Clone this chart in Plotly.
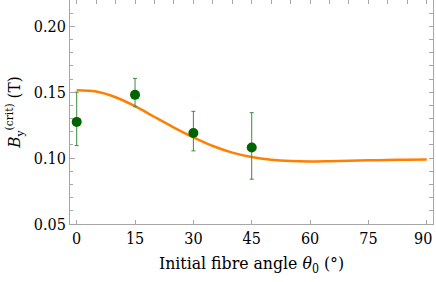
import plotly.graph_objects as go

# Data
angles = [0, 15, 30, 45]
b_crit = [0.1275, 0.148, 0.119, 0.108]
err_plus = [0.0225, 0.0125, 0.0165, 0.0265]
err_minus = [0.0180, 0.0090, 0.0135, 0.0240]

fit_angles = [0, 5, 10, 15, 20, 25, 30, 35, 40, 45, 50, 55, 60, 65, 70, 75, 80, 85, 90]
fit_values = [0.1515, 0.1505, 0.1462, 0.1394, 0.1312, 0.1232, 0.1157, 0.1092, 0.1042,
              0.1008, 0.0988, 0.0978, 0.0975, 0.0977, 0.0980, 0.0983, 0.0986, 0.0988, 0.0989]

x_ticks = [0, 15, 30, 45, 60, 75, 90]
x_ticklabels = ["0", "15", "30", "45", "60", "75", ""]
y_ticks = [0.05, 0.10, 0.15, 0.20]
y_ticklabels = ["0.05", "0.10", "0.15", "0.20"]

XR = [-1.72, 91.6]
YR = [0.05, 0.22]
FRAME = "#a6a6a6"
FONT = "DejaVu Serif Condensed, DejaVu Serif"

fig = go.Figure()
fig.add_trace(go.Scatter(x=fit_angles, y=fit_values, mode="lines", line_shape="spline",
                         line=dict(color="#ff8000", width=2.5), hoverinfo="skip"))
fig.add_trace(go.Scatter(x=angles, y=b_crit, mode="markers",
                         marker=dict(color="#006400", size=10),
                         error_y=dict(type="data", array=err_plus, arrayminus=err_minus,
                                      color="#3c8c3c", thickness=1, width=2)))
# invisible trace for the secondary (top/right) tick axes
fig.add_trace(go.Scatter(x=[XR[0]], y=[YR[0]], xaxis="x2", yaxis="y2", mode="markers",
                         marker=dict(opacity=0), hoverinfo="skip"))

fig.update_layout(
    width=436, height=282,
    margin=dict(l=70, r=3, t=0, b=58),
    paper_bgcolor="white", plot_bgcolor="white",
    showlegend=False,
    font=dict(family=FONT, size=16, color="black"),
    xaxis=dict(range=XR, tickvals=x_ticks, ticktext=x_ticklabels, ticks="inside", ticklen=4,
               tickcolor=FRAME, automargin=False,
               showline=True, linecolor=FRAME, linewidth=1, mirror=True,
               showgrid=False, zeroline=False,
               title=dict(text="Initial fibre angle <i>θ</i><sub>0</sub> (°)", standoff=9,
                          font=dict(size=17.5))),
    yaxis=dict(range=YR, tickvals=y_ticks, ticktext=y_ticklabels, ticks="inside", ticklen=5,
               tickcolor=FRAME, automargin=False,
               showline=True, linecolor=FRAME, linewidth=1, mirror=True,
               showgrid=False, zeroline=False,
               minor=dict(dtick=0.01, tick0=0.05, ticks="inside", ticklen=3, tickcolor=FRAME),
               title=dict(text="<i>B</i><sub>y</sub><sup>(crit)</sup> (T)", standoff=8,
                          font=dict(size=17))),
    xaxis2=dict(range=XR, overlaying="x", side="top", anchor="y", tickmode="linear",
                tick0=0, dtick=5, ticks="inside", ticklen=4, tickcolor=FRAME, automargin=False,
                showticklabels=False, showgrid=False, zeroline=False, showline=False),
    yaxis2=dict(range=YR, overlaying="y", side="right", anchor="x", tickmode="linear",
                tick0=0.05, dtick=0.01, ticks="inside", ticklen=4, tickcolor=FRAME, automargin=False,
                showticklabels=False, showgrid=False, zeroline=False, showline=False),
    annotations=[dict(text="90", x=90, xref="x", y=0, yref="paper", yanchor="top",
                      xanchor="center", xshift=-4, yshift=-3, showarrow=False,
                      font=dict(family=FONT, size=16))],
)

fig.write_html("out.html", config={"displayModeBar": False},
               post_script="document.body.style.margin='0';document.body.style.overflow='hidden';")
